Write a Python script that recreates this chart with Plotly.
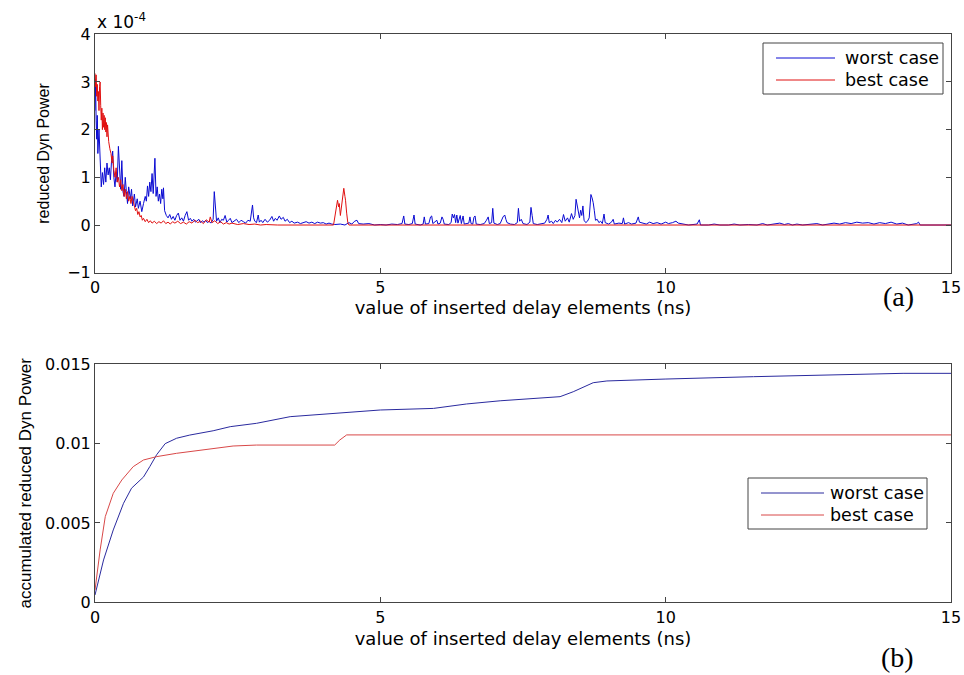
import plotly.graph_objects as go

# (a) reduced dynamic power, values in units of 1e-4
worst_x = [0.00, 0.01, 0.02, 0.03, 0.04, 0.05, 0.07, 0.09, 0.11, 0.13, 0.15, 0.17, 0.19, 0.21, 0.23, 0.25,
           0.27, 0.29, 0.31, 0.33, 0.35, 0.37, 0.39, 0.41, 0.43, 0.45, 0.47, 0.49, 0.51, 0.53, 0.55, 0.57,
           0.59, 0.62, 0.64, 0.66, 0.69, 0.71, 0.74, 0.76, 0.79, 0.82, 0.85, 0.88, 0.90, 0.92, 0.94, 0.96,
           0.98, 1.00, 1.02, 1.05, 1.07, 1.09, 1.11, 1.13, 1.15, 1.17, 1.19, 1.20, 1.22, 1.25, 1.28, 1.31,
           1.34, 1.37, 1.40, 1.43, 1.46, 1.49, 1.52, 1.55, 1.58, 1.61, 1.64, 1.67, 1.70, 1.73, 1.76, 1.79,
           1.82, 1.85, 1.88, 1.91, 1.94, 1.97, 2.00, 2.03, 2.07, 2.09, 2.11, 2.13, 2.16, 2.19, 2.22, 2.25,
           2.28, 2.31, 2.34, 2.37, 2.40, 2.44, 2.48, 2.52, 2.56, 2.60, 2.64, 2.68, 2.72, 2.76, 2.78, 2.80,
           2.83, 2.86, 2.88, 2.91, 2.94, 2.98, 3.02, 3.06, 3.10, 3.13, 3.16, 3.19, 3.23, 3.26, 3.30, 3.33,
           3.37, 3.41, 3.45, 3.49, 3.55, 3.60, 3.65, 3.70, 3.75, 3.80, 3.85, 3.90, 3.95, 4.00, 4.05, 4.10,
           4.15, 4.20, 4.30, 4.38, 4.45, 4.50, 4.55, 4.59, 4.62, 4.70, 4.80, 4.90, 5.00, 5.10, 5.20, 5.30,
           5.38, 5.41, 5.43, 5.50, 5.56, 5.59, 5.61, 5.70, 5.75, 5.77, 5.79, 5.85, 5.88, 5.90, 5.92, 5.96,
           5.99, 6.01, 6.05, 6.08, 6.10, 6.12, 6.20, 6.24, 6.26, 6.28, 6.30, 6.32, 6.34, 6.36, 6.40, 6.42,
           6.45, 6.47, 6.55, 6.57, 6.59, 6.62, 6.64, 6.66, 6.68, 6.75, 6.82, 6.86, 6.89, 6.91, 6.95, 6.97,
           6.99, 7.05, 7.10, 7.15, 7.18, 7.20, 7.22, 7.28, 7.35, 7.40, 7.42, 7.44, 7.47, 7.50, 7.57, 7.62,
           7.64, 7.66, 7.68, 7.75, 7.80, 7.88, 7.92, 7.94, 7.96, 8.00, 8.03, 8.07, 8.10, 8.14, 8.18, 8.21,
           8.24, 8.28, 8.31, 8.35, 8.38, 8.41, 8.43, 8.45, 8.47, 8.49, 8.51, 8.53, 8.55, 8.57, 8.60, 8.63,
           8.66, 8.68, 8.69, 8.71, 8.73, 8.75, 8.77, 8.80, 8.83, 8.86, 8.89, 8.92, 8.94, 9.00, 9.05, 9.08,
           9.10, 9.18, 9.24, 9.26, 9.28, 9.35, 9.40, 9.48, 9.52, 9.54, 9.60, 9.66, 9.72, 9.78, 9.85, 9.92,
           10.00, 10.05, 10.12, 10.18, 10.22, 10.30, 10.40, 10.55, 10.59, 10.61, 10.75, 10.85, 10.95, 11.10,
           11.20, 11.30, 11.45, 11.60, 11.70, 11.78, 11.90, 12.00, 12.08, 12.15, 12.22, 12.30, 12.40, 12.55,
           12.65, 12.75, 12.85, 12.95, 13.05, 13.15, 13.25, 13.35, 13.45, 13.55, 13.65, 13.75, 13.85, 13.95,
           14.05, 14.15, 14.25, 14.40, 14.43, 14.46, 15.00]
worst_y = [2.40, 3.05, 2.20, 1.80, 2.30, 1.50, 2.00, 1.20, 0.80, 1.10, 0.85, 1.20, 0.90, 1.30, 1.05, 1.20,
           0.95, 1.35, 1.55, 1.00, 0.80, 1.10, 0.90, 1.65, 1.00, 0.75, 1.35, 0.70, 0.60, 1.00, 0.70, 0.45,
           0.80, 0.55, 0.75, 0.40, 0.65, 0.38, 0.55, 0.35, 0.50, 0.28, 0.45, 0.60, 0.50, 0.82, 0.60, 0.90,
           0.70, 1.08, 0.66, 1.40, 0.60, 0.80, 0.50, 0.65, 0.45, 0.75, 0.55, 0.78, 0.30, 0.20, 0.15, 0.22,
           0.12, 0.18, 0.10, 0.20, 0.25, 0.10, 0.15, 0.08, 0.20, 0.28, 0.10, 0.14, 0.08, 0.12, 0.06, 0.10,
           0.12, 0.05, 0.09, 0.06, 0.10, 0.05, 0.08, 0.04, 0.12, 0.70, 0.30, 0.08, 0.15, 0.05, 0.12, 0.10,
           0.20, 0.06, 0.10, 0.14, 0.05, 0.08, 0.12, 0.05, 0.10, 0.07, 0.04, 0.10, 0.08, 0.42, 0.15, 0.08,
           0.05, 0.21, 0.06, 0.10, 0.05, 0.12, 0.06, 0.10, 0.18, 0.08, 0.14, 0.10, 0.19, 0.12, 0.16, 0.08,
           0.12, 0.05, 0.08, 0.04, 0.06, 0.03, 0.05, 0.07, 0.04, 0.06, 0.03, 0.06, 0.04, 0.05, 0.02, 0.04,
           0.02, 0.01, 0.02, 0.00, 0.05, 0.02, 0.08, 0.10, 0.03, 0.02, 0.03, 0.00, 0.01, 0.00, 0.02, 0.01,
           0.03, 0.19, 0.02, 0.01, 0.03, 0.21, 0.02, 0.00, 0.02, 0.17, 0.02, 0.03, 0.17, 0.19, 0.03, 0.08,
           0.10, 0.02, 0.04, 0.17, 0.12, 0.02, 0.01, 0.05, 0.23, 0.15, 0.22, 0.05, 0.21, 0.04, 0.20, 0.03,
           0.19, 0.02, 0.04, 0.17, 0.03, 0.02, 0.16, 0.19, 0.02, 0.01, 0.03, 0.10, 0.17, 0.03, 0.05, 0.35,
           0.04, 0.01, 0.03, 0.17, 0.21, 0.12, 0.05, 0.02, 0.01, 0.05, 0.35, 0.08, 0.12, 0.03, 0.01, 0.06,
           0.37, 0.20, 0.03, 0.01, 0.02, 0.04, 0.12, 0.21, 0.05, 0.08, 0.03, 0.10, 0.06, 0.12, 0.05, 0.22,
           0.08, 0.15, 0.06, 0.24, 0.12, 0.20, 0.54, 0.40, 0.30, 0.15, 0.31, 0.20, 0.40, 0.10, 0.05, 0.08,
           0.15, 0.55, 0.64, 0.57, 0.47, 0.30, 0.10, 0.12, 0.05, 0.08, 0.03, 0.23, 0.05, 0.02, 0.06, 0.12,
           0.02, 0.04, 0.03, 0.15, 0.02, 0.05, 0.02, 0.04, 0.17, 0.06, 0.04, 0.02, 0.06, 0.03, 0.05, 0.02,
           0.06, 0.03, 0.05, 0.08, 0.04, 0.02, 0.00, 0.02, 0.11, 0.00, 0.00, 0.02, 0.00, 0.00,
           0.02, 0.00, 0.01, 0.00, 0.03, 0.00, 0.02, 0.04, 0.01, 0.03, 0.00, 0.02, 0.00, 0.01,
           0.03, 0.00, 0.02, 0.04, 0.02, 0.05, 0.03, 0.06, 0.04, 0.05, 0.02, 0.05, 0.03, 0.06,
           0.02, 0.04, 0.00, 0.03, 0.06, 0.00, 0.00]

best_x = [0.00, 0.01, 0.02, 0.03, 0.04, 0.05, 0.06, 0.07, 0.08, 0.09, 0.10, 0.11, 0.12, 0.13, 0.14, 0.15,
          0.16, 0.17, 0.18, 0.19, 0.20, 0.21, 0.22, 0.23, 0.24, 0.26, 0.28, 0.30, 0.31, 0.33, 0.35, 0.37,
          0.39, 0.41, 0.43, 0.45, 0.47, 0.49, 0.51, 0.53, 0.55, 0.57, 0.59, 0.61, 0.63, 0.65, 0.67, 0.69,
          0.71, 0.73, 0.75, 0.77, 0.79, 0.81, 0.83, 0.85, 0.88, 0.91, 0.94, 0.97, 1.00, 1.04, 1.08, 1.12,
          1.16, 1.20, 1.24, 1.28, 1.32, 1.36, 1.40, 1.45, 1.50, 1.55, 1.60, 1.65, 1.70, 1.75, 1.80, 1.85,
          1.90, 1.95, 2.00, 2.02, 2.05, 2.10, 2.15, 2.20, 2.25, 2.30, 2.35, 2.40, 2.50, 2.60, 2.70, 2.80,
          2.90, 3.00, 3.20, 4.18, 4.20, 4.22, 4.25, 4.27, 4.28, 4.30, 4.32, 4.34, 4.36, 4.38, 4.39, 4.41,
          4.43, 4.45, 15.00]
best_y = [3.18, 2.90, 3.15, 2.70, 2.95, 2.60, 2.80, 2.40, 2.90, 3.00, 2.50, 2.20, 2.45, 2.00, 2.35, 2.05,
          2.30, 2.00, 2.25, 1.95, 2.15, 1.85, 2.10, 1.90, 1.75, 1.60, 1.50, 1.30, 1.45, 1.15, 1.00, 1.20,
          0.90, 1.00, 0.80, 0.95, 0.72, 0.85, 0.60, 0.75, 0.55, 0.70, 0.50, 0.60, 0.45, 0.60, 0.48, 0.40,
          0.30, 0.35, 0.22, 0.28, 0.17, 0.20, 0.10, 0.14, 0.07, 0.12, 0.05, 0.09, 0.04, 0.08, 0.03, 0.07,
          0.04, 0.09, 0.03, 0.06, 0.02, 0.07, 0.04, 0.08, 0.03, 0.06, 0.02, 0.07, 0.04, 0.10, 0.05, 0.08,
          0.03, 0.11, 0.06, 0.17, 0.05, 0.09, 0.03, 0.07, 0.02, 0.05, 0.02, 0.04, 0.01, 0.03, 0.01, 0.02,
          0.00, 0.01, 0.00, 0.00, 0.15, 0.31, 0.52, 0.38, 0.45, 0.20, 0.40, 0.63, 0.77, 0.60, 0.52, 0.25,
          0.05, 0.00, 0.00]

# (b) accumulated reduced dynamic power
acc_worst_x = [0.00, 0.15, 0.32, 0.50, 0.64, 0.85, 0.96, 1.08, 1.23, 1.43, 1.66, 2.07, 2.37, 2.83, 3.42,
               4.12, 5.00, 5.93, 6.51, 7.10, 7.68, 8.15, 8.38, 8.56, 8.73, 8.97, 9.38, 9.99, 11.54, 13.29,
               14.16, 15.00]
acc_worst_y = [0.00046, 0.00267, 0.00456, 0.00624, 0.00719, 0.00790, 0.00855, 0.00930, 0.01000, 0.01034,
               0.01054, 0.01081, 0.01107, 0.01128, 0.01170, 0.01187, 0.01212, 0.01222, 0.01250, 0.01270,
               0.01286, 0.01296, 0.01327, 0.01355, 0.01384, 0.01395, 0.01401, 0.01407, 0.01422, 0.01437,
               0.01443, 0.01443]
acc_best_x = [0.00, 0.09, 0.18, 0.32, 0.47, 0.67, 0.85, 1.08, 1.43, 1.96, 2.42, 2.83, 3.42, 4.20, 4.29,
              4.41, 15.00]
acc_best_y = [0.00077, 0.00330, 0.00540, 0.00687, 0.00771, 0.00855, 0.00897, 0.00918, 0.00939, 0.00964,
              0.00985, 0.00991, 0.00991, 0.00991, 0.01023, 0.01055, 0.01055]

series_names = ['worst case', 'best case']

W, H = 964, 675
FONT = 'DejaVu Sans'
TOP_COLORS = ['#0a0ad2', '#e01010']
BOT_COLORS = ['#2a2a9e', '#d84848']

fig = go.Figure()
for name, xs, ys, c in zip(series_names, [worst_x, best_x], [worst_y, best_y], TOP_COLORS):
    fig.add_trace(go.Scatter(x=xs, y=ys, mode='lines', name=name, showlegend=False,
                             line=dict(color=c, width=1), xaxis='x', yaxis='y'))
for name, xs, ys, c in zip(series_names, [acc_worst_x, acc_best_x], [acc_worst_y, acc_best_y], BOT_COLORS):
    fig.add_trace(go.Scatter(x=xs, y=ys, mode='lines', name=name, showlegend=False,
                             line=dict(color=c, width=1), xaxis='x2', yaxis='y2'))

axis_style = dict(showline=True, linecolor='#444', linewidth=1, mirror='ticks', ticks='inside',
                  ticklen=5, tickcolor='#444', showgrid=False, zeroline=False, automargin=False,
                  tickfont=dict(family=FONT, size=16, color='black'))
xtitle = dict(text='value of inserted delay elements (ns)', font=dict(family=FONT, size=18))


def px_x(p):
    return p / W


def px_y(p):
    return 1 - p / H


# MATLAB-style boxed legends (box, sample lines, labels), positions in pixels
shapes, annotations = [], []
legend_boxes = [
    # box left, top, right, bottom, line x0, x1, text x, row y's, colours
    (763, 43, 943, 94, 776, 835, 843, [58, 80], TOP_COLORS),
    (748, 478, 927, 529, 761, 824, 828, [493, 515], BOT_COLORS),
]
for bl, bt, br, bb, lx0, lx1, tx, rows, cols in legend_boxes:
    shapes.append(dict(type='rect', xref='paper', yref='paper', x0=px_x(bl), x1=px_x(br),
                       y0=px_y(bb), y1=px_y(bt), line=dict(color='#444', width=1), fillcolor='white'))
    for name, ry, c in zip(series_names, rows, cols):
        shapes.append(dict(type='line', xref='paper', yref='paper', x0=px_x(lx0), x1=px_x(lx1),
                           y0=px_y(ry), y1=px_y(ry), line=dict(color=c, width=1)))
        annotations.append(dict(text=name, x=px_x(tx), y=px_y(ry), xref='paper', yref='paper',
                                xanchor='left', yanchor='middle', showarrow=False,
                                font=dict(family=FONT, size=17.5, color='black')))

annotations += [
    dict(text='x 10<sup>-4</sup>', x=0, y=4, xref='x', yref='y', xanchor='left', yanchor='bottom',
         showarrow=False, font=dict(family=FONT, size=17)),
    dict(text='(a)', x=px_x(916), y=px_y(297), xref='paper', yref='paper', xanchor='right',
         yanchor='middle', showarrow=False, font=dict(family='Liberation Serif', size=28)),
    dict(text='(b)', x=px_x(916), y=px_y(657), xref='paper', yref='paper', xanchor='right',
         yanchor='middle', showarrow=False, font=dict(family='Liberation Serif', size=28)),
]

xdom = [px_x(95), px_x(951)]
fig.update_layout(
    width=W, height=H,
    margin=dict(l=0, r=0, t=0, b=0),
    paper_bgcolor='white', plot_bgcolor='white',
    font=dict(family=FONT, color='black'),
    xaxis=dict(domain=xdom, range=[0, 15], tickvals=[0, 5, 10, 15], anchor='y',
               title=dict(standoff=2, **xtitle), **axis_style),
    yaxis=dict(domain=[px_y(272.7), px_y(34.3)], range=[-1, 4], tickvals=[-1, 0, 1, 2, 3, 4],
               anchor='x', title=dict(text='reduced Dyn Power', font=dict(family='Liberation Sans', size=16),
                                      standoff=13), **axis_style),
    xaxis2=dict(domain=xdom, range=[0, 15], tickvals=[0, 5, 10, 15], anchor='y2',
                title=dict(standoff=6, **xtitle), **axis_style),
    yaxis2=dict(domain=[px_y(602.3), px_y(364.3)], range=[0, 0.015],
                tickvals=[0, 0.005, 0.01, 0.015], ticktext=['0', '0.005', '0.01', '0.015'],
                anchor='x2', title=dict(text='accumulated reduced Dyn Power',
                                        font=dict(family='Liberation Sans', size=17), standoff=9),
                **axis_style),
    shapes=shapes,
    annotations=annotations,
)

# drop the default body margin so the figure sits at the window's top-left corner
fig.write_html('out.html', config={'displayModeBar': False},
               post_script="document.body.style.margin='0';")
